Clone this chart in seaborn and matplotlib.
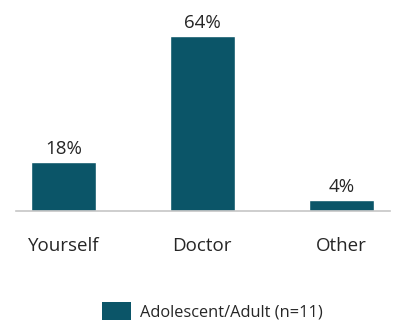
import matplotlib
matplotlib.use("Agg")
import matplotlib.pyplot as plt
import seaborn as sns
import pandas as pd
from matplotlib.patches import Patch

categories = ["Yourself", "Doctor", "Other"]
values = [18, 64, 4]
series_name = "Adolescent/Adult (n=11)"
bar_color = "#0b5568"
text_color = "#262626"

sns.set_style("white")
plt.rcParams["font.family"] = ["Open Sans", "DejaVu Sans"]

df = pd.DataFrame({"category": categories, "value": values})

fig = plt.figure(figsize=(3.96, 3.2), dpi=100)
ax = fig.add_axes([16 / 396, (320 - 211) / 320, (390 - 16) / 396, 191 / 320])

sns.barplot(data=df, x="category", y="value", color=bar_color, width=0.47,
            saturation=1, ax=ax)

for container in ax.containers:
    ax.bar_label(container, labels=[f"{v}%" for v in values], padding=3,
                 fontsize=13.5, color=text_color)

ax.set_ylim(0, 70)
ax.set_xlim(-0.34, 2.35)
ax.set_xlabel("")
ax.set_ylabel("")
ax.set_yticks([])
ax.tick_params(axis="x", length=0, pad=19, labelsize=13.5, labelcolor=text_color)
for side in ["top", "right", "left"]:
    ax.spines[side].set_visible(False)
ax.spines["bottom"].set_color("#c6c6c6")
ax.spines["bottom"].set_linewidth(1.2)

handle = Patch(facecolor=bar_color, edgecolor="none")
fig.legend([handle], [series_name], loc="center",
           bbox_to_anchor=(0.537, 0.028), frameon=False, fontsize=11.8,
           handlelength=1.75, handleheight=1.3, handletextpad=0.55,
           borderpad=0, labelcolor=text_color)

fig.savefig("out.png", dpi=100)
